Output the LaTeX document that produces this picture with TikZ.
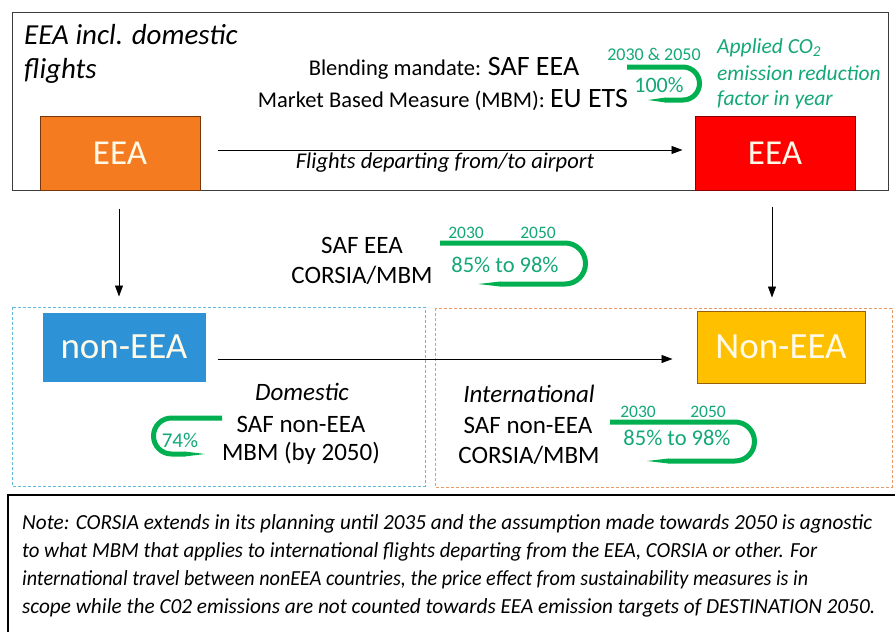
\documentclass[tikz,border=0pt]{standalone}
\usepackage{fontspec}
\setmainfont{Carlito}
\usepackage{graphicx}
\usetikzlibrary{arrows.meta,calc}
\definecolor{framegray}{RGB}{60,60,60}
\definecolor{eeaorange}{RGB}{244,123,32}
\definecolor{eeaorangeb}{RGB}{120,55,10}
\definecolor{eeared}{RGB}{255,0,0}
\definecolor{eeaouter}{RGB}{140,0,0}
\definecolor{nonblue}{RGB}{46,146,214}
\definecolor{nonyellow}{RGB}{255,192,0}
\definecolor{nonyellowb}{RGB}{150,95,10}
\definecolor{boxtext}{RGB}{255,250,232}
\definecolor{curlgreen}{RGB}{0,176,80}
\definecolor{greentext}{RGB}{20,168,120}
\definecolor{dashblue}{RGB}{100,185,220}
\definecolor{dashorange}{RGB}{232,155,105}
\newcommand\myfs[1]{\fontsize{#1pt}{#1pt}\selectfont}
\begin{document}
\begin{tikzpicture}[x=1pt,y=-1pt,
  txt/.style={inner sep=0pt, anchor=base, text=black},
  gtxt/.style={inner sep=0pt, anchor=base, text=greentext},
  bigbox/.style={draw, line width=1pt, minimum width=#1, inner sep=0pt, text=boxtext},
  arr/.style={line width=0.8pt, -{Triangle[length=11pt,width=8pt]}},
  curl/.style={draw=curlgreen, line width=5pt},
  tipfill/.style={fill=curlgreen},
  dashbox/.style={line width=1pt, dash pattern=on 3pt off 2pt}
]
\fill[white] (0,0) rectangle (895,632);
\useasboundingbox (0,0) rectangle (895,632);

% top frame
\draw[framegray, line width=1pt] (12,12) rectangle (888,190);

% dashed boxes
\draw[dashbox, dashblue] (12,307) rectangle (425,486);
\draw[dashbox, dashorange] (435,308) rectangle (892,487);

% main boxes
\node[bigbox=160pt, minimum height=74pt, fill=eeaorange, draw=eeaorangeb] (eeaL) at (120,153) {\myfs{35}EEA};
\node[bigbox=160pt, minimum height=74pt, fill=eeared, draw=eeaouter] (eeaR) at (775,153) {\myfs{35}EEA};
\node[bigbox=162pt, minimum height=68pt, fill=nonblue, draw=nonblue] (nonL) at (124,347) {\myfs{37}non-EEA};
\node[bigbox=168pt, minimum height=72pt, fill=nonyellow, draw=nonyellowb] (nonR) at (781,347) {\myfs{37}Non-EEA};

% connectors
\draw[arr] ($(eeaL.east)+(17,-3)$) -- ($(eeaR.west)+(-12,-3)$);
\draw[arr, shorten <=18pt, shorten >=16pt] ($(eeaL.south)+(-1,0)$) -- ($(eeaL.south |- nonL.north)+(-1,0)$);
\draw[arr, shorten <=16pt, shorten >=13pt] ($(eeaR.south)+(-3,0)$) -- ($(eeaR.south |- nonR.north)+(-3,0)$);
\draw[arr] ($(nonL.east)+(12,12)$) -- ($(nonR.west)+(-24,12)$);

% top texts
\node[txt, anchor=base west] (title1) at (24,44) {\myfs{29}\itshape EEA incl. domestic};
\node[txt, anchor=base west] (title2) at (24,78) {\myfs{29}\itshape flights};
\node[txt] (blend) at (444,75) {\myfs{22.5}Blending mandate: \myfs{28}SAF EEA};
\node[txt] (mbm) at (443,107) {\myfs{22.5}Market Based Measure (MBM): \myfs{28}EU ETS};
\node[txt] (flights) at (445,168) {\myfs{22.5}\itshape Flights departing from/to airport};
\node[gtxt, anchor=base west] (app1) at (717,53) {\myfs{21.5}\itshape Applied CO\textsubscript{2}};
\node[gtxt, anchor=base west] (app2) at (717,80) {\myfs{21.5}\itshape emission reduction};
\node[gtxt, anchor=base west] (app3) at (717,105) {\myfs{21.5}\itshape factor in year};

% top curl
\draw[curl, rounded corners=16.5pt] (627,67) -- (699.5,67) -- (699.5,100) -- (665,100);
\fill[tipfill] (665.5,97.5) -- (648,100) -- (665.5,102.5) -- cycle;
\node[gtxt] (y1) at (654,60) {\myfs{18}2030 \& 2050};
\node[gtxt] (p100) at (659,92) {\myfs{22}100\%};

% middle texts
\node[txt] (msaf) at (362,253) {\myfs{25}SAF EEA};
\node[txt] (mcor) at (362,283) {\myfs{25}CORSIA/MBM};
\draw[curl, rounded corners=20.5pt] (440,243) -- (585.5,243) -- (585.5,284) -- (500,284);
\fill[tipfill] (500.5,281.5) -- (478,284) -- (500.5,286.5) -- cycle;
\node[gtxt] (m2030) at (466,238) {\myfs{17.5}2030};
\node[gtxt] (m2050) at (538,238) {\myfs{17.5}2050};
\node[gtxt] (mpct) at (505,272) {\myfs{22.5}85\% to 98\%};

% domestic
\node[txt] (dom) at (302,400) {\myfs{25}\itshape Domestic};
\node[txt] (dsaf) at (301,432) {\myfs{25}SAF non-EEA};
\node[txt] (dmbm) at (301,460) {\myfs{25}MBM (by 2050)};
\draw[curl, rounded corners=18pt] (222,418) -- (153.5,418) -- (153.5,454) -- (185,454);
\fill[tipfill] (184.5,451.5) -- (205,454) -- (184.5,456.5) -- cycle;
\node[gtxt] (p74) at (180,447) {\myfs{21}74\%};

% international
\node[txt] (intl) at (529,402) {\myfs{25}\itshape International};
\node[txt] (isaf) at (528,433) {\myfs{25}SAF non-EEA};
\node[txt] (icor) at (529,463) {\myfs{25}CORSIA/MBM};
\draw[curl, rounded corners=19.5pt] (610,422) -- (754.5,422) -- (754.5,461) -- (668,461);
\fill[tipfill] (668.5,458.5) -- (647,461) -- (668.5,463.5) -- cycle;
\node[gtxt] (b2030) at (638,417) {\myfs{17.5}2030};
\node[gtxt] (b2050) at (708,417) {\myfs{17.5}2050};
\node[gtxt] (bpct) at (677,445) {\myfs{22.5}85\% to 98\%};

% note box
\draw[black, line width=2.5pt] (8,650) -- (8,495) -- (910,495);
\node[txt, anchor=base west] (note1) at (22,529) {\resizebox{850pt}{\height}{\myfs{21.5}\itshape Note: CORSIA extends in its planning until 2035 and the assumption made towards 2050 is agnostic}};
\node[txt, anchor=base west] (note2) at (22,557) {\resizebox{795pt}{\height}{\myfs{21.5}\itshape to what MBM that applies to international flights departing from the EEA, CORSIA or other. For}};
\node[txt, anchor=base west] (note3) at (22,585) {\resizebox{786pt}{\height}{\myfs{21.5}\itshape international travel between nonEEA countries, the price effect from sustainability measures is in}};
\node[txt, anchor=base west] (note4) at (22,613) {\resizebox{853pt}{\height}{\myfs{21.5}\itshape scope while the C02 emissions are not counted towards EEA emission targets of DESTINATION 2050.}};
\end{tikzpicture}
\end{document}
